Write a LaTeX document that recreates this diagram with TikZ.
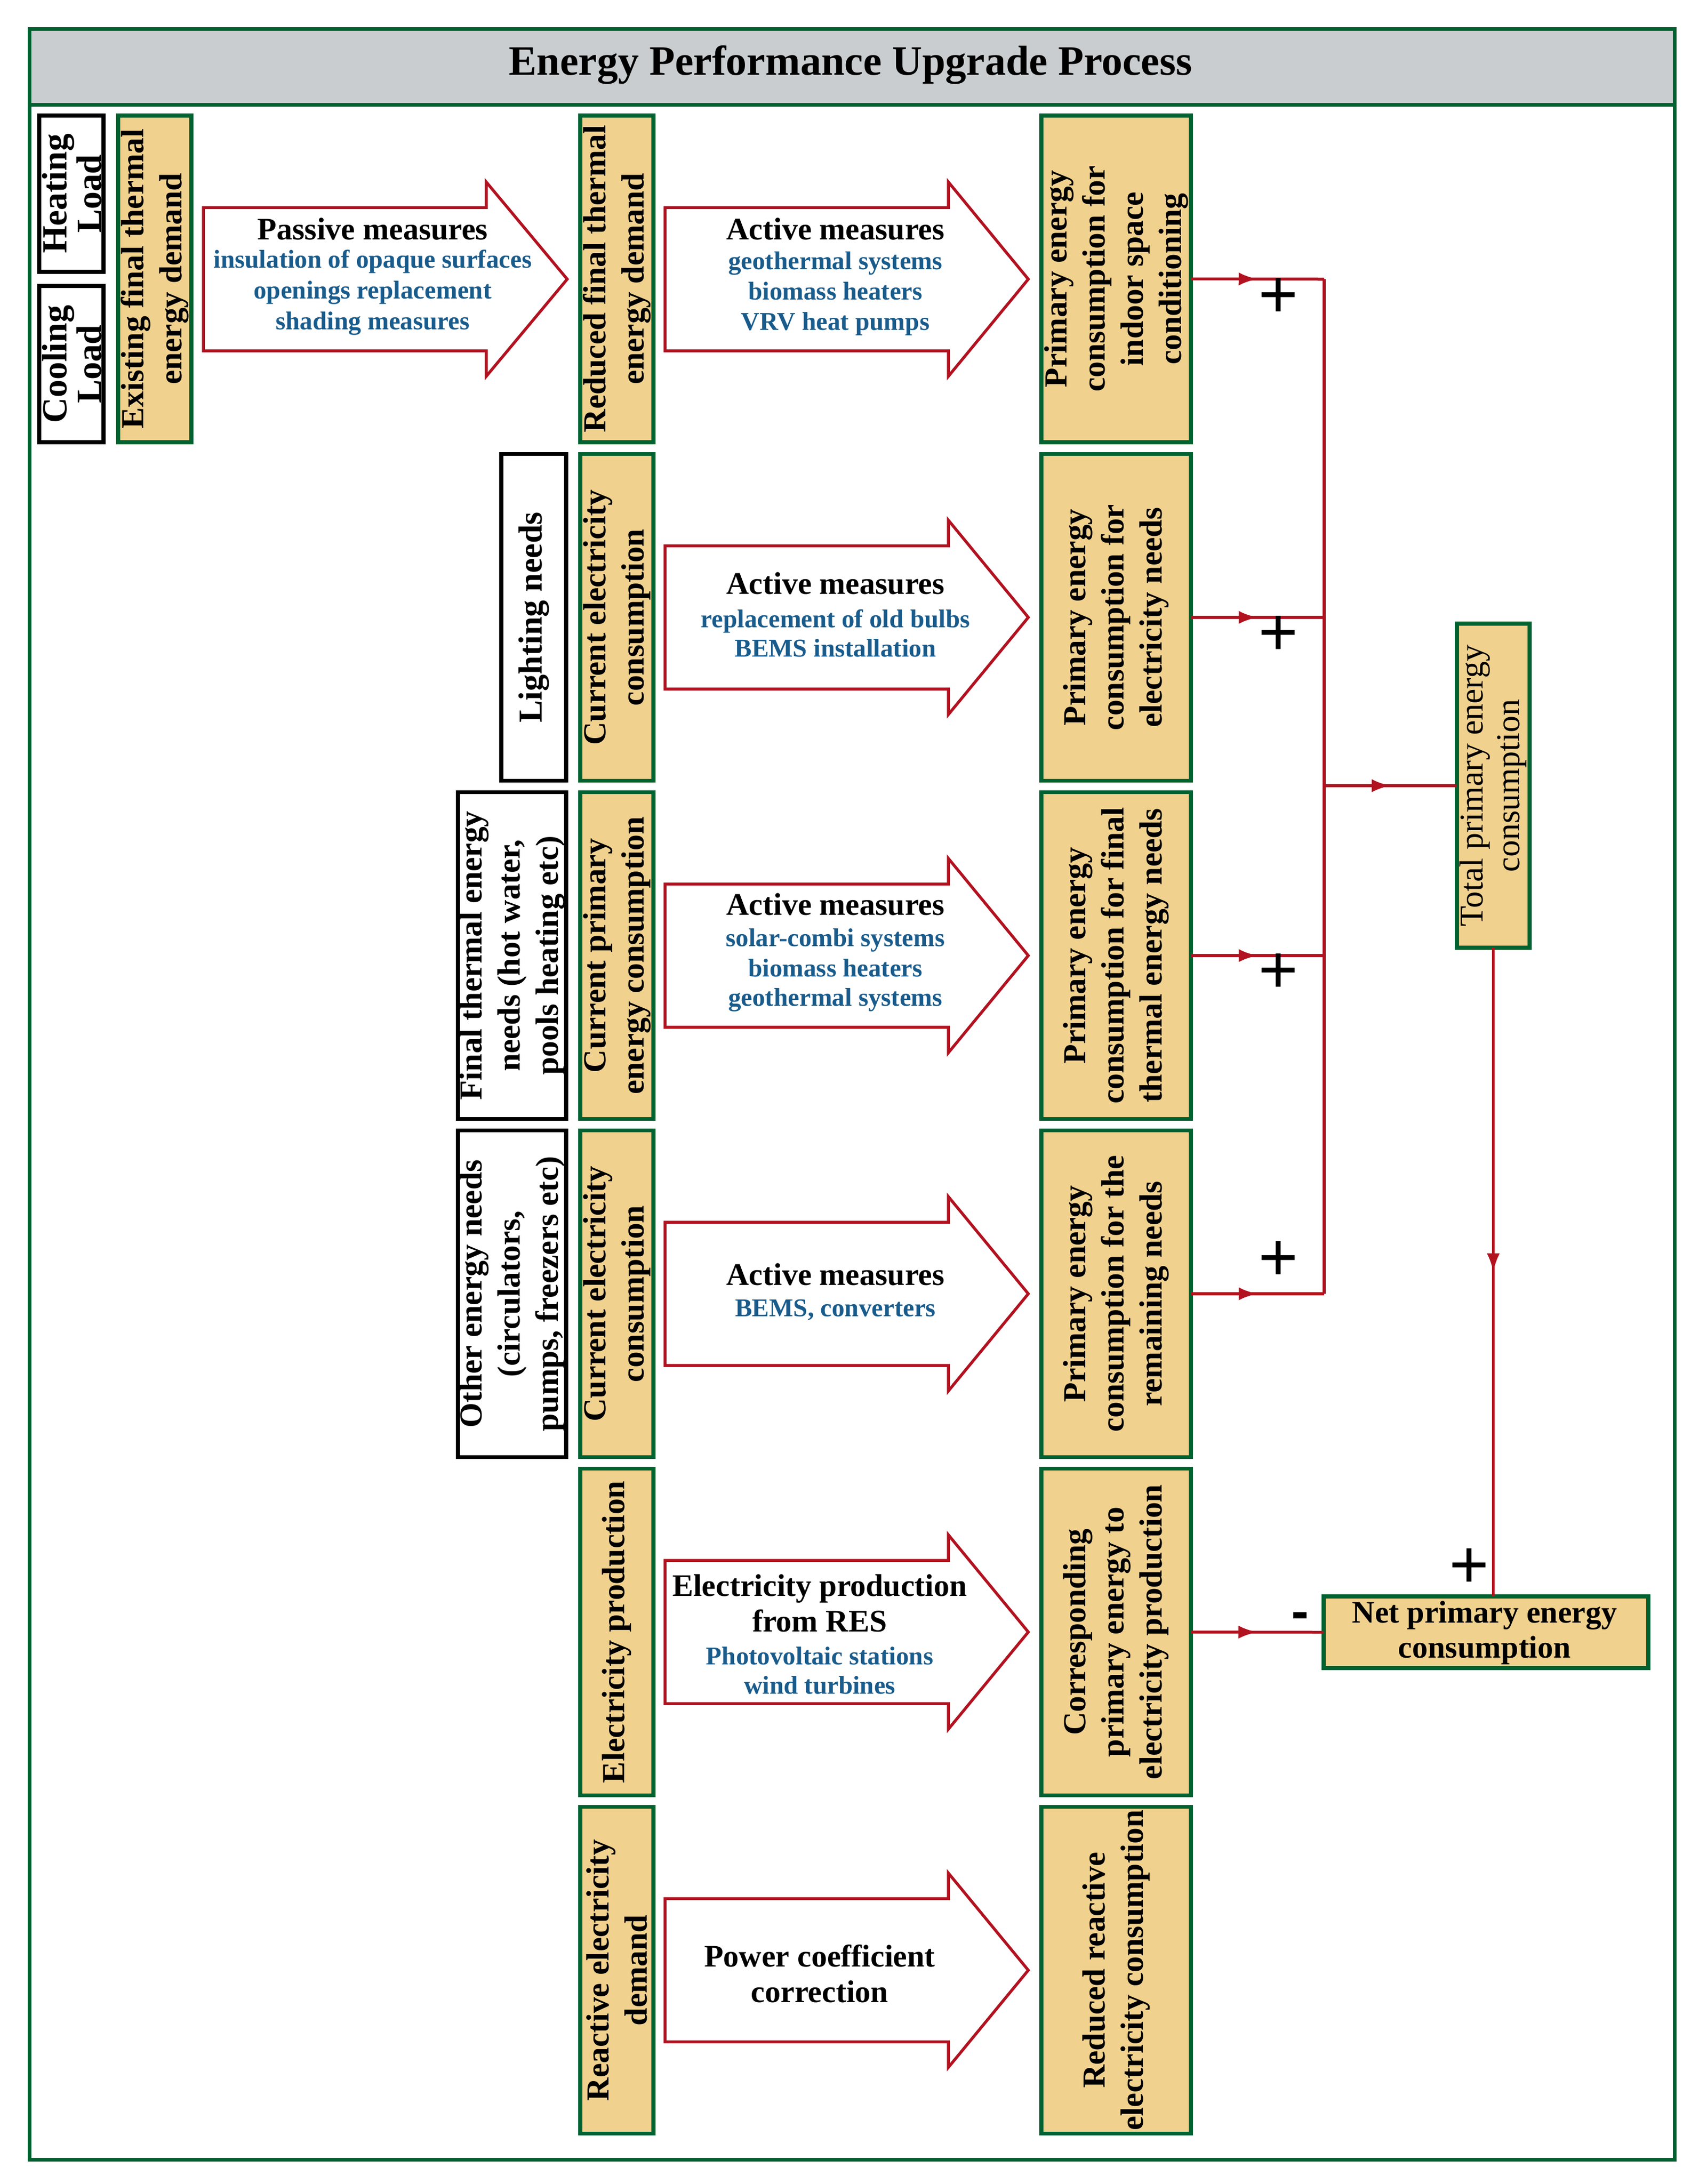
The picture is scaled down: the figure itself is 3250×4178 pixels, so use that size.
\documentclass[tikz,border=0pt]{standalone}
\usepackage{fontspec}
\setmainfont{Liberation Serif}
\newfontfamily\plusfont{Liberation Sans}
\usetikzlibrary{decorations.markings,arrows.meta}
\definecolor{tanfill}{RGB}{240,209,142}
\definecolor{dgreen}{RGB}{0,98,48}
\definecolor{dred}{RGB}{178,18,32}
\definecolor{mblue}{RGB}{25,92,140}
\definecolor{tgray}{RGB}{201,205,207}
\tikzset{
 tanbox/.style={draw=dgreen,line width=1.5pt,fill=tanfill,inner sep=0pt,outer sep=0pt},
 blkbox/.style={draw=black,line width=1.5pt,fill=white,inner sep=0pt,outer sep=0pt},
 vtext/.style={rotate=90,align=center,inner sep=0pt,font=\bfseries\fontsize{12.3}{14.6}\selectfont},
 loadtext/.style={rotate=90,align=center,inner sep=0pt,font=\bfseries\fontsize{13.5}{11.8}\selectfont},
 conn/.style={draw=dred,line width=1.1pt,postaction={decorate},
   decoration={markings,mark=at position 0.5 with {\arrow[dred]{Latex[length=7.2pt,width=5pt]}}}},
 bline/.style={draw=dred,line width=1.1pt},
 barrowline/.style={draw=dred,line width=1.1pt,fill=white,line join=miter},
 headtxt/.style={font=\bfseries\fontsize{12}{14}\selectfont,anchor=base,inner sep=0pt},
 subtxt/.style={font=\bfseries\fontsize{9.8}{11}\selectfont,text=mblue,anchor=base,inner sep=0pt},
 signtxt/.style={font=\plusfont\fontsize{26}{26}\selectfont,inner sep=0pt},
}
\newcommand{\bigarrow}[4]{%
 \draw[barrowline] (#1,#4-137) -- (#2,#4-137) -- (#2,#4-186) -- (#3,#4) -- (#2,#4+186) -- (#2,#4+137) -- (#1,#4+137) -- cycle;}
\begin{document}
\begin{tikzpicture}[x=0.2pt,y=-0.2pt]
\useasboundingbox (0,0) rectangle (3250,4178);
\fill[white] (0,0) rectangle (3250,4178);
% frame and title
\node[draw=dgreen,line width=1.4pt,minimum width=629.4pt,minimum height=815.2pt,inner sep=0pt,anchor=north west] (frame) at (53,52) {};
\node[draw=dgreen,line width=1.4pt,fill=tgray,minimum width=629.4pt,minimum height=29pt,inner sep=0pt,anchor=north west] (title) at (53,52) {};
\node[font=\bfseries\fontsize{16}{18}\selectfont,anchor=base,inner sep=0pt] (ttext) at (1627,143) {Energy Performance Upgrade Process};

% row 1
\node[blkbox,minimum width=24.6pt,minimum height=59.8pt] (heat) at (136.5,370.5) {};
\node[loadtext] (heat-t) at (137.5,370.5) {Heating\\Load};
\node[blkbox,minimum width=24.6pt,minimum height=59.8pt] (cool) at (136.5,696.5) {};
\node[loadtext] (cool-t) at (137.5,696.5) {Cooling\\Load};
\node[tanbox,minimum width=28pt,minimum height=125pt] (exist) at (296,533.5) {};
\node[vtext] (exist-t) at (exist) {Existing final thermal\\energy demand};
\node[tanbox,minimum width=28pt,minimum height=125pt] (red1) at (1180,533.5) {};
\node[vtext] (red1-t) at (red1) {Reduced final thermal\\energy demand};
\node[tanbox,minimum width=57.2pt,minimum height=125pt] (prim1) at (2135,533.5) {};
\node[vtext] (prim1-t) at (prim1) {Primary energy\\consumption for\\indoor space\\conditioning};

% row 2
\node[blkbox,minimum width=24.8pt,minimum height=125pt] (light) at (1021,1181) {};
\node[vtext,font=\bfseries\fontsize{12.8}{14.6}\selectfont] (light-t) at (light) {Lighting needs};
\node[tanbox,minimum width=28pt,minimum height=125pt] (cur2) at (1180,1181) {};
\node[vtext] (cur2-t) at (cur2) {Current electricity\\consumption};
\node[tanbox,minimum width=57.2pt,minimum height=125pt] (prim2) at (2135,1181) {};
\node[vtext] (prim2-t) at (prim2) {Primary energy\\consumption for\\electricity needs};

% row 3
\node[blkbox,minimum width=41.4pt,minimum height=125pt] (finth) at (979.5,1828) {};
\node[vtext] (finth-t) at (finth) {Final thermal energy\\needs (hot water,\\pools heating etc)};
\node[tanbox,minimum width=28pt,minimum height=125pt] (cur3) at (1180,1828) {};
\node[vtext] (cur3-t) at (cur3) {Current primary\\energy consumption};
\node[tanbox,minimum width=57.2pt,minimum height=125pt] (prim3) at (2135,1828) {};
\node[vtext] (prim3-t) at (prim3) {Primary energy\\consumption for final\\thermal energy needs};

% row 4
\node[blkbox,minimum width=41.4pt,minimum height=125pt] (other) at (979.5,2475) {};
\node[vtext] (other-t) at (other) {Other energy needs\\(circulators,\\pumps, freezers etc)};
\node[tanbox,minimum width=28pt,minimum height=125pt] (cur4) at (1180,2475) {};
\node[vtext] (cur4-t) at (cur4) {Current electricity\\consumption};
\node[tanbox,minimum width=57.2pt,minimum height=125pt] (prim4) at (2135,2475) {};
\node[vtext] (prim4-t) at (prim4) {Primary energy\\consumption for the\\remaining needs};

% row 5
\node[tanbox,minimum width=28pt,minimum height=125pt] (elprod) at (1180,3122) {};
\node[vtext] (elprod-t) at (elprod) {Electricity production};
\node[tanbox,minimum width=57.2pt,minimum height=125pt] (corr) at (2135,3122) {};
\node[vtext] (corr-t) at (corr) {Corresponding\\primary energy to\\electricity production};

% row 6
\node[tanbox,minimum width=28pt,minimum height=125pt] (react) at (1180,3769) {};
\node[vtext] (react-t) at (react) {Reactive electricity\\demand};
\node[tanbox,minimum width=57.2pt,minimum height=125pt] (rred) at (2135,3769) {};
\node[vtext] (rred-t) at (rred) {Reduced reactive\\electricity consumption};

% totals
\node[tanbox,minimum width=27.8pt,minimum height=124pt] (total) at (2856.5,1503) {};
\node[vtext,font=\fontsize{12.8}{14}\selectfont] (total-t) at (total) {Total primary energy\\consumption};
\node[tanbox,minimum width=124.2pt,minimum height=27.4pt] (net) at (2842.5,3122.5) {};
\node[align=center,inner sep=0pt,font=\bfseries\fontsize{12}{13.4}\selectfont] (net-t) at (2840,3124) {Net primary energy\\consumption};

% block arrows
\bigarrow{389}{930}{1085}{534}
\bigarrow{1272}{1814}{1967}{534}
\bigarrow{1272}{1814}{1967}{1181}
\bigarrow{1272}{1814}{1967}{1828}
\bigarrow{1272}{1814}{1967}{2475}
\bigarrow{1272}{1814}{1967}{3122}
\bigarrow{1272}{1814}{1967}{3769}

% arrow texts
\node[headtxt] (pm) at (713,458) {Passive measures};
\node[subtxt] (pm1) at (713,512) {insulation of opaque surfaces};
\node[subtxt] (pm2) at (713,571) {openings replacement};
\node[subtxt] (pm3) at (713,630) {shading measures};

\node[headtxt] (am1) at (1598,458) {Active measures};
\node[subtxt] (am1a) at (1598,515) {geothermal systems};
\node[subtxt] (am1b) at (1598,573) {biomass heaters};
\node[subtxt] (am1c) at (1598,631) {VRV heat pumps};

\node[headtxt] (am2) at (1598,1136) {Active measures};
\node[subtxt] (am2a) at (1598,1200) {replacement of old bulbs};
\node[subtxt] (am2b) at (1598,1256) {BEMS installation};

\node[headtxt] (am3) at (1598,1750) {Active measures};
\node[subtxt] (am3a) at (1598,1810) {solar-combi systems};
\node[subtxt] (am3b) at (1598,1868) {biomass heaters};
\node[subtxt] (am3c) at (1598,1924) {geothermal systems};

\node[headtxt] (am4) at (1598,2458) {Active measures};
\node[subtxt] (am4a) at (1598,2518) {BEMS, converters};

\node[headtxt] (ep1) at (1568,3053) {Electricity production};
\node[headtxt] (ep2) at (1568,3121) {from RES};
\node[subtxt] (ep3) at (1568,3184) {Photovoltaic stations};
\node[subtxt] (ep4) at (1568,3240) {wind turbines};

\node[headtxt] (pc1) at (1568,3762) {Power coefficient};
\node[headtxt] (pc2) at (1568,3830) {correction};

% connectors
\coordinate (b1) at (2533,534);
\coordinate (b2) at (2533,1181);
\coordinate (b3) at (2533,1828);
\coordinate (b4) at (2533,2475);
\coordinate (bm) at (2533,1503);
\draw[conn] (prim1.east) -- (b1);
\draw[conn] (prim2.east) -- (b2);
\draw[conn] (prim3.east) -- (b3);
\draw[conn] (prim4.east) -- (b4);
\draw[bline] (b1) -- (b4);
\draw[conn] (bm) -- (total.west);
\draw[conn] (total.south) -- (total.south |- net.north);
\draw[conn] (corr.east) -- (net.west);

% signs
\node[signtxt] (s1) at (2445,570) {+};
\node[signtxt] (s2) at (2445,1216) {+};
\node[signtxt] (s3) at (2445,1862) {+};
\node[signtxt] (s4) at (2445,2412) {+};
\node[signtxt] (s5) at (2810,3000) {+};
\node[font=\plusfont\bfseries\fontsize{20}{20}\selectfont,inner sep=0pt,anchor=base] (s6) at (2487,3116) {-};
\end{tikzpicture}
\end{document}
